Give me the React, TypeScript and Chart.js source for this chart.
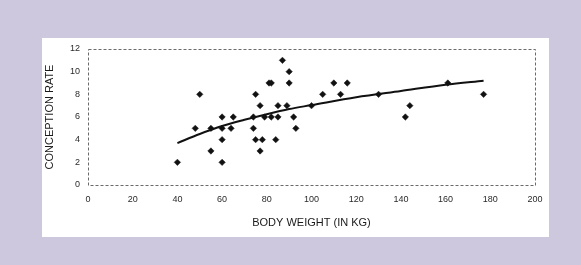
import React, { useEffect, useRef } from "react";
import { Chart, registerables } from "chart.js";

Chart.register(...registerables);

// Scatter observations: body weight (kg) and conception rate
const weights = [
  40, 48, 50, 55, 55, 60, 60, 60, 60, 64, 65, 74, 74, 75, 75, 77, 77, 78, 79, 81,
  82, 82, 84, 85, 85, 87, 89, 90, 90, 92, 93, 100, 105, 110, 113, 116, 130, 142, 144, 161, 177,
];
const rates = [
  2, 5, 8, 5, 3, 6, 5, 4, 2, 5, 6, 5, 6, 8, 4, 7, 3, 4, 6, 9,
  9, 6, 4, 7, 6, 11, 7, 10, 9, 6, 5, 7, 8, 9, 8, 9, 8, 6, 7, 9, 8,
];

// Trend curve
const trendX = [40, 50, 60, 70, 80, 90, 100, 120, 140, 160, 177];
const trendY = [3.7, 4.5, 5.2, 5.75, 6.25, 6.7, 7.05, 7.75, 8.3, 8.85, 9.2];

const xTitle = "BODY WEIGHT (IN KG)";
const yTitle = "CONCEPTION RATE";

const FONT = "'Liberation Sans', Arial, sans-serif";

const borderPlugin = {
  id: "dashedBorder",
  afterDraw(chart: any) {
    const { ctx, chartArea } = chart;
    ctx.save();
    ctx.strokeStyle = "#6a6a6a";
    ctx.lineWidth = 1;
    ctx.setLineDash([3, 2]);
    ctx.strokeRect(
      Math.round(chartArea.left) + 0.5,
      Math.round(chartArea.top) + 0.5,
      Math.round(chartArea.right - chartArea.left),
      Math.round(chartArea.bottom - chartArea.top)
    );
    ctx.restore();
  },
};

export default function App() {
  const ref = useRef<HTMLCanvasElement>(null);

  useEffect(() => {
    if (!ref.current) return;
    const chart = new Chart(ref.current, {
      type: "scatter",
      data: {
        datasets: [
          {
            type: "line",
            data: trendX.map((x, i) => ({ x, y: trendY[i] })),
            borderColor: "#111",
            borderWidth: 2,
            pointRadius: 0,
            cubicInterpolationMode: "monotone",
            fill: false,
          } as any,
          {
            data: weights.map((x, i) => ({ x, y: rates[i] })),
            pointStyle: "rectRot",
            pointRadius: 3.2,
            borderWidth: 0.5,
            backgroundColor: "#111",
            borderColor: "#111",
          },
        ],
      },
      options: {
        animation: false,
        responsive: false,
        maintainAspectRatio: false,
        layout: { padding: { top: 11, right: 14, left: 0, bottom: 0 } },
        plugins: { legend: { display: false }, tooltip: { enabled: false } },
        scales: {
          x: {
            type: "linear",
            min: 0,
            max: 200,
            grid: { display: false },
            border: { display: false },
            ticks: {
              stepSize: 20,
              padding: 1,
              color: "#2a2a2a",
              font: { family: FONT, size: 9 },
            },
            title: {
              display: true,
              text: xTitle,
              color: "#1a1a1a",
              font: { family: FONT, size: 11 },
              padding: { top: 0, bottom: 7 },
            },
            afterFit: (s: any) => {
              s.height = 52;
            },
          },
          y: {
            min: 0,
            max: 12,
            grid: { display: false },
            border: { display: false },
            ticks: {
              stepSize: 2,
              padding: 0,
              color: "#2a2a2a",
              font: { family: FONT, size: 9 },
            },
            title: {
              display: true,
              text: yTitle,
              color: "#1a1a1a",
              font: { family: FONT, size: 11 },
              padding: { top: 1.5, bottom: 0 },
            },
            afterFit: (s: any) => {
              s.width = 46;
            },
          },
        },
      },
      plugins: [borderPlugin],
    });
    return () => chart.destroy();
  }, []);

  return (
    <div
      style={{
        position: "fixed",
        left: 0,
        top: 0,
        width: 581,
        height: 265,
        background: "#cdc8de",
        overflow: "hidden",
      }}
    >
      <div
        style={{
          position: "absolute",
          left: 42,
          top: 38,
          width: 507,
          height: 199,
          background: "#fff",
        }}
      >
        <canvas ref={ref} width={507} height={199} style={{ display: "block" }} />
      </div>
    </div>
  );
}
